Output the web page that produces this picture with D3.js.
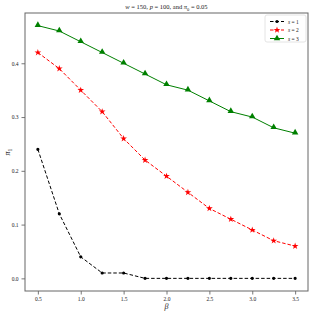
<!DOCTYPE html>
<html>
<head>
<meta charset="utf-8">
<script src="https://cdn.jsdelivr.net/npm/d3@7"></script>
<style>
  body { margin: 0; background: #fff; }
  text { font-family: "Liberation Serif", "DejaVu Serif", serif; fill: #222; }
</style>
</head>
<body>
<div id="chart"></div>
<script>
var betas = [0.5, 0.75, 1.0, 1.25, 1.5, 1.75, 2.0, 2.25, 2.5, 2.75, 3.0, 3.25, 3.5];
var s1 = [0.24, 0.12, 0.04, 0.01, 0.01, 0, 0, 0, 0, 0, 0, 0, 0];
var s2 = [0.42, 0.39, 0.35, 0.31, 0.26, 0.22, 0.19, 0.16, 0.13, 0.11, 0.09, 0.07, 0.06];
var s3 = [0.47, 0.46, 0.44, 0.42, 0.40, 0.38, 0.36, 0.35, 0.33, 0.31, 0.30, 0.28, 0.27];
var xTicks = [0.5, 1.0, 1.5, 2.0, 2.5, 3.0, 3.5];
var yTicks = [0.0, 0.1, 0.2, 0.3, 0.4];

var series = [
  {label: "1", vals: s1, color: "#000", dash: "3.5,2", marker: "circle"},
  {label: "2", vals: s2, color: "#ff0000", dash: "3.5,2", marker: "star"},
  {label: "3", vals: s3, color: "#008000", dash: null, marker: "triangle"}
];

var W = 315, H = 315;
var m = {left: 25, right: 7, top: 13, bottom: 24};

var svg = d3.select("#chart").append("svg")
    .attr("width", W)
    .attr("height", H);

var x = d3.scaleLinear().domain([0.35, 3.65]).range([m.left, W - m.right]);
var y = d3.scaleLinear().domain([-0.0235, 0.4935]).range([H - m.bottom, m.top]);

// axes
var xAxis = svg.append("g")
    .attr("transform", "translate(0," + (H - m.bottom) + ")")
    .call(d3.axisBottom(x).tickValues(xTicks).tickSize(3.5).tickPadding(3).tickFormat(d3.format(".1f")));
var yAxis = svg.append("g")
    .attr("transform", "translate(" + m.left + ",0)")
    .call(d3.axisLeft(y).tickValues(yTicks).tickSize(3.5).tickPadding(3).tickFormat(d3.format(".1f")));
[xAxis, yAxis].forEach(function(a) {
  a.select(".domain").remove();
  a.selectAll("line").attr("stroke", "#555").attr("stroke-width", 0.8);
  a.selectAll("text").style("font-size", "5.5px").attr("fill", "#333");
});

// frame
svg.append("rect")
    .attr("x", m.left).attr("y", m.top)
    .attr("width", W - m.left - m.right)
    .attr("height", H - m.top - m.bottom)
    .attr("fill", "none")
    .attr("stroke", "#666")
    .attr("stroke-width", 1);

var line = d3.line()
    .x(function(d, i) { return x(betas[i]); })
    .y(function(d) { return y(d); });

function symFor(name) {
  if (name == "circle") return d3.symbol().type(d3.symbolCircle).size(8);
  if (name == "star") return d3.symbol().type(d3.symbolStar).size(14);
  return d3.symbol().type(d3.symbolTriangle).size(18);
}

series.forEach(function(s) {
  svg.append("path")
      .datum(s.vals)
      .attr("d", line)
      .attr("fill", "none")
      .attr("stroke", s.color)
      .attr("stroke-width", 1)
      .attr("stroke-dasharray", s.dash);
  svg.selectAll(null)
      .data(s.vals)
      .enter().append("path")
      .attr("d", symFor(s.marker))
      .attr("fill", s.color)
      .attr("transform", function(d, i) {
        var dy = s.marker == "triangle" ? -0.6 : 0;
        return "translate(" + x(betas[i]) + "," + (y(d) + dy) + ")";
      });
});

// legend
var lg = svg.append("g").attr("transform", "translate(265,15)");
lg.append("rect")
    .attr("width", 41).attr("height", 27).attr("rx", 2)
    .attr("fill", "#fff").attr("stroke", "#ddd").attr("stroke-width", 0.8);
series.forEach(function(s, i) {
  var yy = 6.5 + i * 8.5;
  lg.append("line")
      .attr("x1", 5).attr("x2", 19).attr("y1", yy).attr("y2", yy)
      .attr("stroke", s.color).attr("stroke-width", 1)
      .attr("stroke-dasharray", s.dash);
  lg.append("path")
      .attr("d", symFor(s.marker))
      .attr("fill", s.color)
      .attr("transform", "translate(12," + yy + ")");
  var t = lg.append("text").attr("x", 23).attr("y", yy + 2).style("font-size", "5.5px");
  t.append("tspan").style("font-style", "italic").text("s");
  t.append("tspan").text(" = " + s.label);
});

// title
var title = svg.append("text")
    .attr("x", (m.left + W - m.right) / 2).attr("y", 9)
    .attr("text-anchor", "middle")
    .style("font-size", "6.5px");
title.append("tspan").style("font-style", "italic").text("w");
title.append("tspan").text(" = 150,  ");
title.append("tspan").style("font-style", "italic").text("p");
title.append("tspan").text(" = 100,  and  ");
title.append("tspan").style("font-style", "italic").text("π");
title.append("tspan").attr("dy", 1.5).style("font-size", "4.5px").text("0");
title.append("tspan").attr("dy", -1.5).text(" = 0.05");

// axis labels
svg.append("text")
    .attr("x", (m.left + W - m.right) / 2).attr("y", 309)
    .attr("text-anchor", "middle")
    .style("font-size", "8px").style("font-style", "italic")
    .text("β");
var yl = svg.append("text")
    .attr("transform", "translate(10," + ((m.top + H - m.bottom) / 2) + ") rotate(-90)")
    .attr("text-anchor", "middle")
    .style("font-size", "8px");
yl.append("tspan").style("font-style", "italic").text("π");
yl.append("tspan").attr("dy", 1.5).style("font-size", "5.5px").text("1");
</script>
</body>
</html>
